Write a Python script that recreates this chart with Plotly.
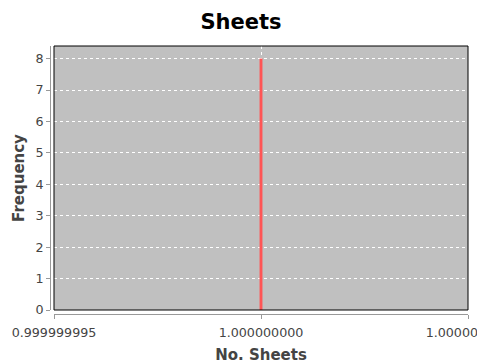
import plotly.graph_objects as go

# Data
sheet_values = [1.0]
frequencies = [8]
x_ticks = [0.999999995, 1.000000000, 1.000000005]
x_tick_labels = ["0.999999995", "1.000000000", "1.000000005"]
y_ticks = list(range(0, 9))

# page body has an 8px margin, so shrink the figure accordingly
PAD = 8
W, H = 485 - PAD, 364 - PAD
ml, mr, mt, mb = 50 - PAD, 17, 46 - PAD, 50
pw, ph = W - ml - mr, H - mt - mb
off = 4

fig = go.Figure()
fig.add_trace(go.Bar(
    x=sheet_values, y=frequencies, width=7e-11,
    marker=dict(color="#ff5555", line=dict(width=0)),
))

font = "DejaVu Sans"
fig.update_layout(
    width=W, height=H,
    margin=dict(l=ml, r=mr, t=mt, b=mb, pad=0),
    paper_bgcolor="white", plot_bgcolor="#c0c0c0",
    showlegend=False,
    title=dict(text="<b>Sheets</b>", x=(241 - PAD) / W, xanchor="center",
               y=1 - (22 - PAD) / H, yanchor="middle",
               font=dict(family=font, size=21, color="black")),
    font=dict(family=font, size=12.7, color="#444444"),
    xaxis=dict(
        domain=[off / pw, 1], anchor="free", position=0,
        range=[x_ticks[0], x_ticks[-1]], automargin=False,
        tickmode="array", tickvals=x_ticks, ticktext=x_tick_labels,
        ticks="outside", ticklen=4, tickcolor="#999999",
        ticklabeloverflow="allow", ticklabelstandoff=3,
        showline=True, linecolor="#999999", linewidth=1,
        showgrid=True, gridcolor="white", griddash="3px,3px", gridwidth=1,
        zeroline=False,
        tickfont=dict(family=font, size=12.7, color="#444444"),
        title=dict(text="<b>No. Sheets</b>", standoff=10,
                   font=dict(family=font, size=15, color="#444444")),
    ),
    yaxis=dict(
        domain=[off / ph, 1], anchor="free", position=0,
        range=[0, 8.4], automargin=False,
        tickmode="array", tickvals=y_ticks,
        ticks="outside", ticklen=4, tickcolor="#999999",
        ticklabeloverflow="allow",
        showline=True, linecolor="#999999", linewidth=1,
        showgrid=True, gridcolor="white", griddash="3px,3px", gridwidth=1,
        zeroline=False,
        tickfont=dict(family=font, size=12.7, color="#444444"),
        title=dict(text="<b>Frequency</b>", standoff=6,
                   font=dict(family=font, size=15, color="#444444")),
    ),
    shapes=[dict(type="rect", xref="x domain", yref="y domain", x0=0, x1=1, y0=0, y1=1,
                 line=dict(color="black", width=1), layer="above")],
)

fig.write_html("out.html")
